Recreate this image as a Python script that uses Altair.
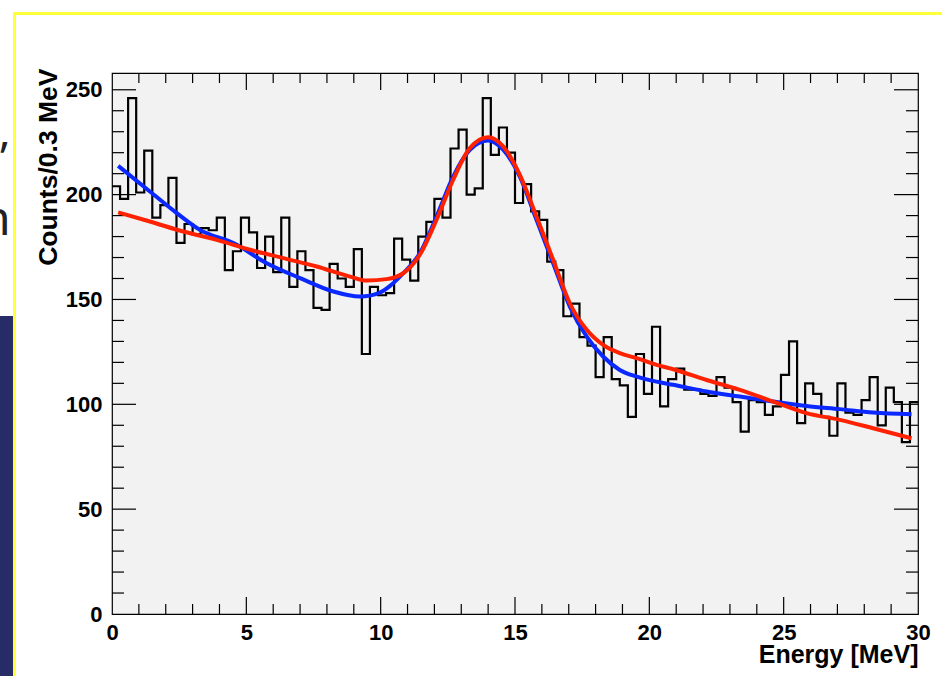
import altair as alt
import pandas as pd

# ---------------- data ----------------
bin_width = 0.3
counts = [204, 198, 246, 201, 221, 189, 195, 208, 177, 186,
          181, 184, 183, 189, 164, 173, 189, 182, 165, 180,
          163, 189, 156, 173, 164, 146, 145, 167, 160, 156,
          174, 124, 156, 152, 153, 179, 169, 159, 180, 187,
          198, 189, 222, 231, 200, 203, 246, 219, 232, 220,
          196, 205, 192, 188, 168, 164, 142, 148, 132, 128,
          113, 132, 112, 109, 94, 124, 105, 137, 99, 112,
          117, 107, 107, 105, 104, 113, 108, 101, 87, 102,
          101, 95, 99, 114, 130, 91, 110, 105, 94, 85,
          110, 96, 95, 102, 113, 90, 108, 101, 82, 101]

blue_x = [0.23, 1.41, 2.41, 3.27, 4.52, 5.76, 7.0, 8.24, 9.23, 9.97, 10.35,
          10.84, 11.46, 12.08, 12.7, 13.32, 14.0, 14.56, 15.18, 15.8, 16.42,
          17.04, 17.67, 18.28, 18.9, 19.53, 20.27, 20.89, 22.13, 23.37, 24.61,
          25.85, 27.09, 28.33, 29.76]
blue_y = [213.7, 201.5, 191.2, 183.2, 176.9, 167.3, 160.2, 153.8, 151.4, 153.3, 156.5,
          162.5, 172.1, 189.6, 208.6, 221.4, 225.8, 221.4, 208.6, 188.0, 167.3,
          146.6, 132.3, 122.8, 116.4, 113.2, 110.8, 109.3, 106.1, 103.7, 101.3,
          99.2, 97.7, 96.1, 95.3]

red_x = [0.23, 1.41, 2.65, 3.9, 5.14, 6.38, 7.62, 8.86, 9.48, 10.22, 10.84,
         11.46, 12.08, 12.7, 13.32, 14.0, 14.56, 15.18, 15.8, 16.42, 17.04,
         17.67, 18.28, 18.9, 19.53, 20.27, 20.89, 22.13, 23.37, 24.61, 25.85,
         27.09, 28.33, 29.76]
red_y = [191.5, 187.2, 182.4, 178.4, 173.7, 169.7, 165.7, 160.9, 159.0, 159.7, 162.5,
         171.3, 188.0, 207.1, 222.2, 227.4, 223.0, 209.4, 189.6, 168.9, 148.2,
         135.5, 128.3, 124.4, 122.0, 118.8, 116.7, 111.6, 106.9, 101.3, 95.8,
         92.6, 88.6, 83.8]

x_label_values = [0, 5, 10, 15, 20, 25, 30]
y_label_values = [0, 50, 100, 150, 200, 250]
x_major_ticks = [5, 10, 15, 20, 25]
x_minor_ticks = [1, 2, 3, 4, 6, 7, 8, 9, 11, 12, 13, 14, 16, 17, 18, 19,
                 21, 22, 23, 24, 26, 27, 28, 29]
y_major_ticks = [50, 100, 150, 200, 250]
y_minor_ticks = [10, 20, 30, 40, 60, 70, 80, 90, 110, 120, 130, 140,
                 160, 170, 180, 190, 210, 220, 230, 240]

# ---------------- tables ----------------
edges = [round(i * bin_width, 2) for i in range(len(counts) + 1)]
hist_df = pd.DataFrame({"E": edges, "N": counts + [counts[-1]]})
blue_df = pd.DataFrame({"E": blue_x, "N": blue_y})
red_df = pd.DataFrame({"E": red_x, "N": red_y})

W, H = 806, 541
FONT = "Liberation Sans"
x_scale = alt.Scale(domain=[0, 30], nice=False, zero=False)
y_scale = alt.Scale(domain=[0, 258], nice=False, zero=False)

x_axis = alt.Axis(values=x_label_values, format="d", title="Energy [MeV]",
                  labelFont=FONT, labelFontSize=22, labelFontWeight="bold",
                  labelColor="black", labelPadding=8, labelFlush=False,
                  labelOverlap=False, ticks=False, domain=False, grid=False,
                  titleFont=FONT, titleFontSize=25, titleFontWeight="bold",
                  titleColor="black", titleAlign="right", titleAnchor="end",
                  titleX=W, titleY=48, titleBaseline="alphabetic")
y_axis = alt.Axis(values=y_label_values, format="d", title="Counts/0.3 MeV",
                  labelFont=FONT, labelFontSize=22, labelFontWeight="bold",
                  labelColor="black", labelPadding=10, labelFlush=False,
                  labelOverlap=False, ticks=False, domain=False, grid=False,
                  titleFont=FONT, titleFontSize=26.5, titleFontWeight="bold",
                  titleColor="black", titleAngle=270, titleAlign="right",
                  titleAnchor="end", titleX=-56, titleY=-5,
                  titleBaseline="alphabetic")

one = pd.DataFrame({"d": [0]})

# slide decorations around the ROOT canvas
navy = alt.Chart(one).mark_rect(color="#272c66").encode(
    x=alt.value(-112), x2=alt.value(-99), y=alt.value(243), y2=alt.value(610))
yellow = alt.Chart(one).mark_rect(fillOpacity=0, stroke="#ffff3a", strokeWidth=3).encode(
    x=alt.value(-97.5), x2=alt.value(860), y=alt.value(-59.5), y2=alt.value(640))
frag1 = alt.Chart(one).mark_text(font="Noto Sans", fontSize=44, align="left",
                                 baseline="alphabetic", color="#222").encode(
    x=alt.value(-120), y=alt.value(100), text=alt.value("\u201d"))
frag2 = alt.Chart(one).mark_text(font="Noto Sans", fontSize=48, align="left",
                                 baseline="alphabetic", color="#222").encode(
    x=alt.value(-131), y=alt.value(162), text=alt.value("n"))

hist = alt.Chart(hist_df).mark_line(interpolate="step-after", color="black",
                                    strokeWidth=2.2).encode(
    x=alt.X("E:Q", scale=x_scale, axis=x_axis),
    y=alt.Y("N:Q", scale=y_scale, axis=y_axis))

blue = alt.Chart(blue_df).mark_line(interpolate="monotone", color="#0a28ff",
                                    strokeWidth=4).encode(
    x=alt.X("E:Q", scale=x_scale), y=alt.Y("N:Q", scale=y_scale))
red = alt.Chart(red_df).mark_line(interpolate="monotone", color="#ff2200",
                                  strokeWidth=4).encode(
    x=alt.X("E:Q", scale=x_scale), y=alt.Y("N:Q", scale=y_scale))


def xticks(vals, y0, y1):
    return alt.Chart(pd.DataFrame({"E": vals})).mark_rule(
        color="black", strokeWidth=1.2).encode(
        x=alt.X("E:Q", scale=x_scale), y=alt.value(y0), y2=alt.value(y1))


def yticks(vals, x0, x1):
    return alt.Chart(pd.DataFrame({"N": vals})).mark_rule(
        color="black", strokeWidth=1.2).encode(
        y=alt.Y("N:Q", scale=y_scale), x=alt.value(x0), x2=alt.value(x1))


ticks = [
    xticks(x_major_ticks, H, H - 17), xticks(x_minor_ticks, H, H - 10),
    xticks(x_major_ticks, 0, 17), xticks(x_minor_ticks, 0, 10),
    yticks(y_major_ticks, 0, 24), yticks(y_minor_ticks, 0, 12),
    yticks(y_major_ticks, W, W - 24), yticks(y_minor_ticks, W, W - 12),
]

chart = alt.layer(navy, yellow, frag1, frag2, hist, *ticks, blue, red).properties(
    width=W, height=H,
    padding={"left": 112, "top": 73, "right": 24, "bottom": 62},
    autosize=alt.AutoSizeParams(type="none"),
    background="white",
).configure_view(fill="#f2f2f2", stroke="black", strokeWidth=1.2)

chart.save("out.html", embed_options={"renderer": "svg", "actions": False})
